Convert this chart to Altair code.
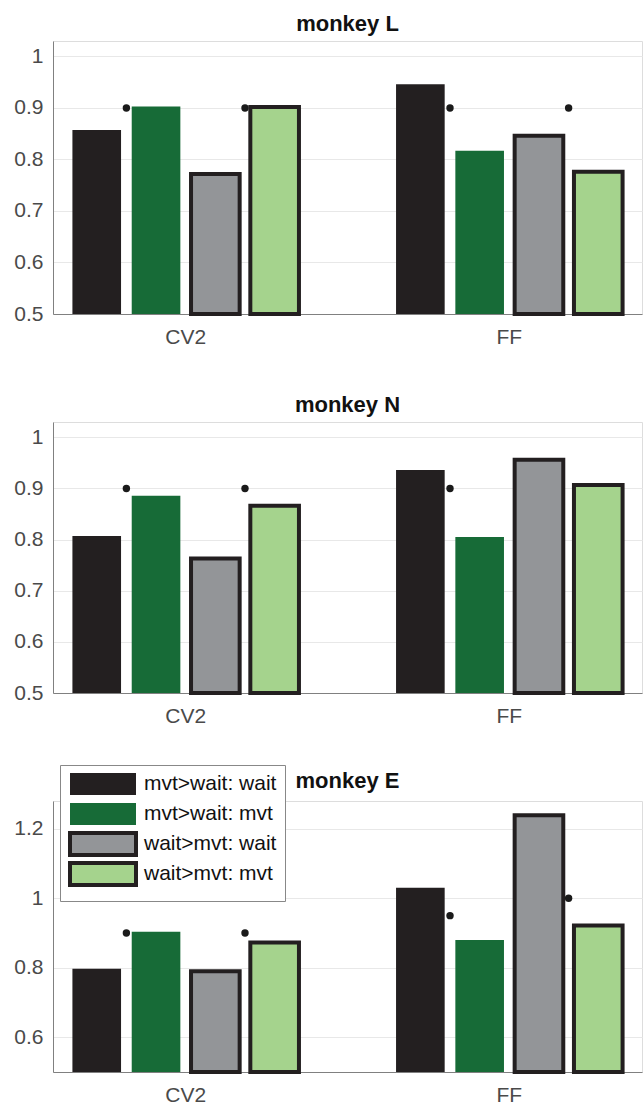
import altair as alt
import pandas as pd

# ---- data ----
groups = ["CV2", "FF"]
series = ["mvt>wait: wait", "mvt>wait: mvt", "wait>mvt: wait", "wait>mvt: mvt"]
fills = ["#231f20", "#176b37", "#939598", "#a5d38d"]
strokes = ["transparent", "transparent", "#231f20", "#231f20"]

titles = ["monkey L", "monkey N", "monkey E"]

L_cv2 = [0.857, 0.903, 0.772, 0.902]
L_ff = [0.946, 0.817, 0.846, 0.776]
N_cv2 = [0.807, 0.886, 0.763, 0.866]
N_ff = [0.936, 0.805, 0.956, 0.907]
E_cv2 = [0.797, 0.904, 0.790, 0.873]
E_ff = [1.030, 0.880, 1.239, 0.922]

# significance dots: group, index of the bar the dot follows, value
L_dot_group = ["CV2", "CV2", "FF", "FF"]
L_dot_after = [0, 2, 0, 2]
L_dot_value = [0.9, 0.9, 0.9, 0.9]
N_dot_group = ["CV2", "CV2", "FF"]
N_dot_after = [0, 2, 0]
N_dot_value = [0.9, 0.9, 0.9]
E_dot_group = ["CV2", "CV2", "FF", "FF"]
E_dot_after = [0, 2, 0, 2]
E_dot_value = [0.9, 0.9, 0.95, 1.0]

baseline = 0.5
y_max = [1.03, 1.03, 1.28]
ticks_LN = [0.5, 0.6, 0.7, 0.8, 0.9, 1.0]
ticks_E = [0.6, 0.8, 1.0, 1.2]

FONT = "Liberation Sans"
LABEL_COLOR = "#4a4a4a"
INNER_PAD = 0.18  # padding between bars inside a group


def panel(title, cv2, ff, dg, da, dv, ymax, ticks, height, show_legend):
    bars_df = pd.DataFrame({
        "group": [g for g in groups for _ in series],
        "series": series * 2,
        "value": cv2 + ff,
    })
    dots_df = pd.DataFrame({"group": dg, "after": da, "value": dv})

    xscale = alt.Scale(domain=groups, paddingInner=0.3, paddingOuter=0.06)
    offscale = alt.Scale(domain=series, paddingInner=INNER_PAD, paddingOuter=0)
    yscale = alt.Scale(domain=[baseline, ymax], nice=False, zero=False)
    if show_legend:
        legend = alt.Legend(
            orient="none", legendX=7, legendY=-36, title=None,
            symbolType="M-1,-1.222H6.333V1.222H-1Z", symbolSize=324,
            symbolStrokeWidth=4, labelFontSize=21, labelFont=FONT,
            labelColor="#111", rowPadding=-12, padding=8, labelOffset=54,
            strokeColor="#888", fillColor="white", labelLimit=300,
        )
        title_offset = -28
    else:
        legend = None
        title_offset = 5
    xaxis = alt.Axis(labelFontSize=21, labelFont=FONT, labelColor=LABEL_COLOR,
                     labelPadding=12, ticks=False, domainColor="#808080",
                     labelAngle=0, grid=False)
    yaxis = alt.Axis(values=ticks, format="~g", labelFontSize=21, labelFont=FONT,
                     labelColor=LABEL_COLOR, labelPadding=10, ticks=False,
                     domainColor="#808080", gridColor="#e8e8e8")
    bars = alt.Chart(bars_df).mark_bar(strokeWidth=4, strokeJoin="miter").encode(
        x=alt.X("group:N", scale=xscale, axis=xaxis, title=None, sort=groups),
        xOffset=alt.XOffset("series:N", scale=offscale, sort=series),
        y=alt.Y("value:Q", scale=yscale, axis=yaxis, title=None),
        y2=alt.datum(baseline),
        fill=alt.Fill("series:N", scale=alt.Scale(domain=series, range=fills),
                      legend=legend, sort=series),
        stroke=alt.Stroke("series:N", scale=alt.Scale(domain=series, range=strokes),
                          legend=legend, sort=series),
    )
    layers = [bars]
    n = len(series)
    for after in sorted(set(da)):
        # dot sits in the gap right after bar `after`
        frac = (after + 1 - INNER_PAD / 2) / (n - INNER_PAD)
        sub = dots_df[dots_df["after"] == after]
        layers.append(
            alt.Chart(sub).mark_circle(size=55, color="#1a1a1a", opacity=1).encode(
                x=alt.X("group:N", scale=xscale, sort=groups, bandPosition=frac),
                y=alt.Y("value:Q", scale=yscale),
            )
        )
    return alt.layer(*layers).properties(
        width=589, height=height,
        title=alt.TitleParams(title, fontSize=22, fontWeight="bold", font=FONT,
                              color="#111", offset=title_offset, anchor="middle"),
    )


p1 = panel(titles[0], L_cv2, L_ff, L_dot_group, L_dot_after, L_dot_value,
           y_max[0], ticks_LN, 273, False)
p2 = panel(titles[1], N_cv2, N_ff, N_dot_group, N_dot_after, N_dot_value,
           y_max[1], ticks_LN, 271, False)
p3 = panel(titles[2], E_cv2, E_ff, E_dot_group, E_dot_after, E_dot_value,
           y_max[2], ticks_E, 271, True)

chart = alt.vconcat(p1, p2, p3, spacing=108, bounds="flush").resolve_scale(
    fill="independent", stroke="independent", x="independent", y="independent"
).resolve_legend(fill="independent", stroke="independent").properties(
    padding={"left": 13, "top": 12, "right": 0, "bottom": 0}
).configure_view(stroke=None).configure(background="white")

chart.save("out.html", embed_options={"renderer": "svg", "actions": False})
